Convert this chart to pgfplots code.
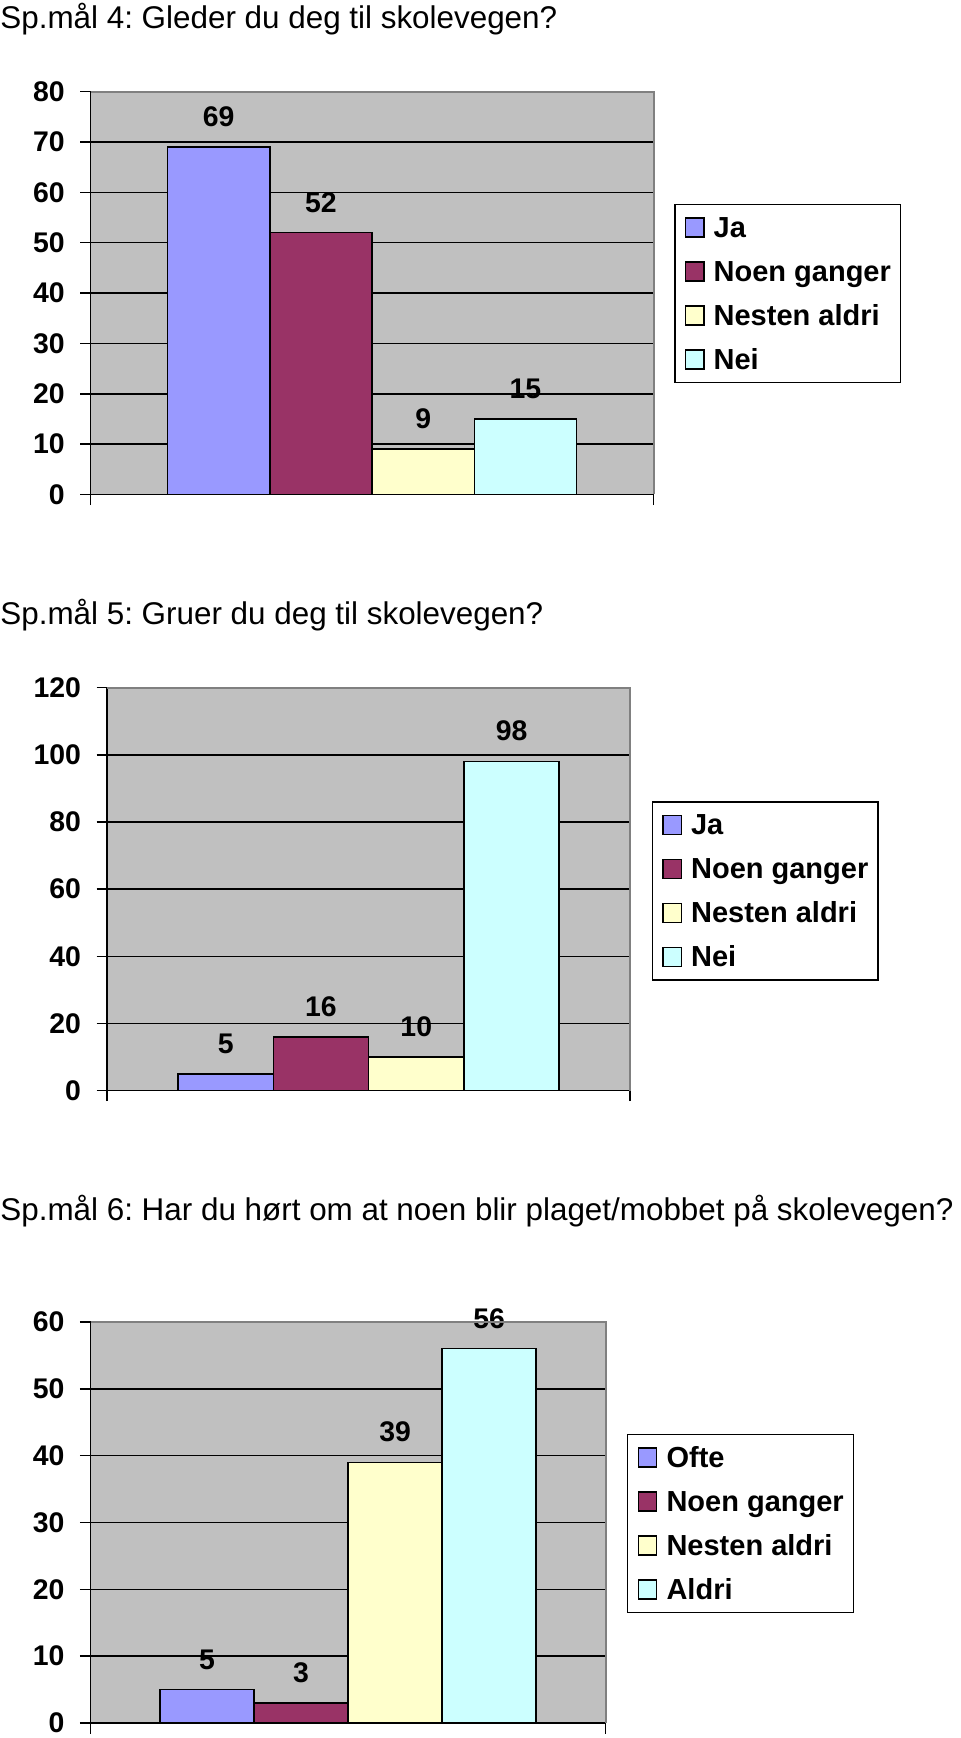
\documentclass[border=0pt]{standalone}
\usepackage{fontspec}
\setmainfont{Liberation Sans}
\usepackage{pgfplots}
\pgfplotsset{compat=1.18}
\frenchspacing
\definecolor{cJa}{HTML}{9999FF}
\definecolor{cNoen}{HTML}{993366}
\definecolor{cNesten}{HTML}{FFFFCC}
\definecolor{cNei}{HTML}{CCFFFF}
\definecolor{cBg}{HTML}{C0C0C0}
\definecolor{cBorder}{HTML}{808080}
\pgfplotsset{
  myaxis/.style={
    scale only axis,
    clip=false,
    axis x line*=bottom, axis y line*=left,
    axis line style={black, line width=0.75pt},
    axis background/.style={fill=cBg},
    after end axis/.code={\draw[cBorder, line width=1pt] (rel axis cs:0,1) -- (rel axis cs:1,1) -- (rel axis cs:1,0);},
    ybar=0pt,
    ymin=0,
    xtick align=outside, ytick align=outside,
    major tick length=5.3pt,
    tick style={black, line width=0.75pt},
    xticklabels={},
    ymajorgrids, grid style={black, line width=0.75pt},
    /pgf/number format/assume math mode=true,
    yticklabel style={font=\bfseries\fontsize{14.2}{16}\selectfont, anchor=east, inner sep=0pt, xshift=-7.55pt},
    every axis plot/.append style={draw=black, line width=0.75pt},
    nodes near coords,
    every node near coord/.append style={font=\bfseries\fontsize{14.2}{16}\selectfont, anchor=south, inner sep=0pt, yshift=9.75pt, text=black},
    legend cell align=left,
    legend image code/.code={\draw[#1, line width=0.75pt] (0pt,-4.75pt) rectangle (9.2pt,4.75pt);},
    legend style={draw=black, line width=0.75pt, fill=white, anchor=north west,
      inner xsep=4.9pt, inner ysep=0.5pt, column sep=4.55pt,
      font=\bfseries\fontsize{14.5}{17}\selectfont,
      nodes={inner sep=0pt, text height=16pt, text depth=6pt}},
  },
}
\begin{document}
\begin{tikzpicture}
\useasboundingbox (0,0) rectangle (480pt,-869pt);
% titles
\node[anchor=base west, inner sep=0pt, font=\fontsize{15.7}{18}\selectfont] at (0pt,-14.5pt) {Sp.mål 4: Gleder du deg til skolevegen?};
\node[anchor=base west, inner sep=0pt, font=\fontsize{15.7}{18}\selectfont] at (0pt,-312.25pt) {Sp.mål 5: Gruer du deg til skolevegen?};
\node[anchor=base west, inner sep=0pt, font=\fontsize{15.7}{18}\selectfont] at (0pt,-610.35pt) {Sp.mål 6: Har du hørt om at noen blir plaget/mobbet på skolevegen?};

% chart 1
\begin{axis}[myaxis,
  at={(45.35pt,-45.8pt)}, anchor=north west,
  width=281.4pt, height=201.45pt,
  xmin=-281.4, xmax=281.4, xtick={-281.4,281.4},
  ymax=80, ytick={0,10,...,80},
  bar width=102.25,
  legend style={at={(1.0366,0.7215)}},
]
\addplot[fill=cJa] coordinates {(0,69)};
\addplot[fill=cNoen] coordinates {(0,52)};
\addplot[fill=cNesten] coordinates {(0,9)};
\addplot[fill=cNei] coordinates {(0,15)};
\legend{Ja, Noen ganger, Nesten aldri, Nei}
\end{axis}

% chart 2
\begin{axis}[myaxis,
  at={(53.55pt,-343.8pt)}, anchor=north west,
  width=261.5pt, height=201.5pt,
  xmin=-261.5, xmax=261.5, xtick={-261.5,261.5},
  ymax=120, ytick={0,20,...,120},
  bar width=95.3,
  legend style={at={(1.041,0.7186)}},
]
\addplot[fill=cJa] coordinates {(0,5)};
\addplot[fill=cNoen] coordinates {(0,16)};
\addplot[fill=cNesten] coordinates {(0,10)};
\addplot[fill=cNei] coordinates {(0,98)};
\legend{Ja, Noen ganger, Nesten aldri, Nei}
\end{axis}

% chart 3
\begin{axis}[myaxis,
  at={(45.25pt,-661pt)}, anchor=north west,
  width=257.55pt, height=200.5pt,
  xmin=-257.55, xmax=257.55, xtick={-257.55,257.55},
  ymax=60, ytick={0,10,...,60},
  bar width=94,
  legend style={at={(1.0415,0.721)}},
]
\addplot[fill=cJa] coordinates {(0,5)};
\addplot[fill=cNoen] coordinates {(0,3)};
\addplot[fill=cNesten] coordinates {(0,39)};
\addplot[fill=cNei] coordinates {(0,56)};
\legend{Ofte, Noen ganger, Nesten aldri, Aldri}
\end{axis}
\end{tikzpicture}
\end{document}
